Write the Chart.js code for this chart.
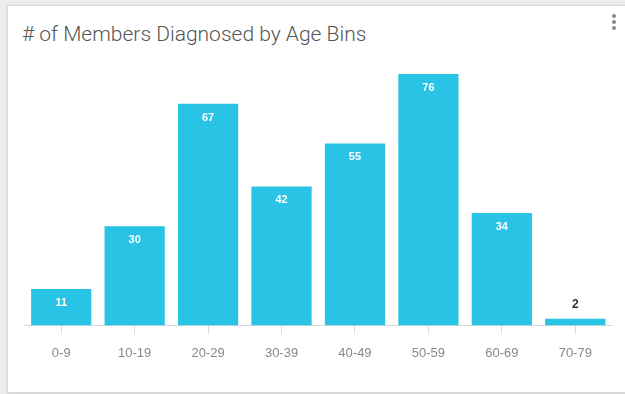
<!DOCTYPE html>
<html>
<head>
<meta charset="utf-8">
<script src="https://cdn.jsdelivr.net/npm/chart.js@4/dist/chart.umd.min.js"></script>
<style>
  html, body { margin:0; padding:0; background:#ececec; width:625px; height:394px; overflow:hidden; }
  .card { position:absolute; left:7px; top:5px; width:640px; height:386px; background:#fff;
          border:1px solid #dcdcdc; box-shadow:0 1px 2px rgba(0,0,0,0.12); }
  .title { position:absolute; left:22px; top:22px; font-family:Roboto, sans-serif; font-weight:300;
           font-size:21px; color:#555; white-space:nowrap; }
  .menu { position:absolute; left:612px; top:14px; width:4px; }
  .menu span { display:block; width:4px; height:4px; border-radius:2px; background:#8a8a8a; margin-bottom:2px; }
  canvas { position:absolute; left:0; top:0; }
</style>
</head>
<body>
<div class="card"></div>
<div class="title"># of Members Diagnosed by Age Bins</div>
<div class="menu"><span></span><span></span><span></span></div>
<canvas id="chart" width="625" height="394"></canvas>
<script>
const ageBins = ['0-9','10-19','20-29','30-39','40-49','50-59','60-69','70-79'];
const members = [11, 30, 67, 42, 55, 76, 34, 2];

// value labels: white inside tall bars, dark above short ones
const barLabels = {
  id: 'barLabels',
  afterDatasetsDraw(chart) {
    const ctx = chart.ctx;
    const meta = chart.getDatasetMeta(0);
    ctx.save();
    ctx.textAlign = 'center';
    ctx.textBaseline = 'middle';
    meta.data.forEach((bar, i) => {
      const h = bar.base - bar.y;
      if (h > 24) {
        ctx.font = 'bold 11px "Liberation Sans", Arial, sans-serif';
        ctx.fillStyle = '#ffffff';
        ctx.fillText(members[i], bar.x, bar.y + 14);
      } else {
        ctx.font = 'bold 12px "Liberation Sans", Arial, sans-serif';
        ctx.fillStyle = '#333333';
        ctx.fillText(members[i], bar.x, bar.y - 14);
      }
    });
    ctx.restore();
  }
};

new Chart(document.getElementById('chart'), {
  type: 'bar',
  data: {
    labels: ageBins,
    datasets: [{ data: members, backgroundColor: '#29c3e5', barPercentage: 0.82, categoryPercentage: 1 }]
  },
  options: {
    responsive: false,
    animation: false,
    layout: { padding: { left: 24.5, right: 13, top: 74, bottom: 21 } },
    plugins: { legend: { display: false }, tooltip: { enabled: false } },
    scales: {
      x: {
        grid: { display: true, drawOnChartArea: false, drawTicks: true, tickLength: 8, offset: false, color: '#d8d8d8' },
        border: { display: true, color: '#d8d8d8', width: 1 },
        ticks: { color: '#888', padding: 12, font: { family: '"Liberation Sans", Arial, sans-serif', size: 13 } }
      },
      y: { display: false, min: 0, max: 76 }
    }
  },
  plugins: [barLabels]
});
</script>
</body>
</html>
